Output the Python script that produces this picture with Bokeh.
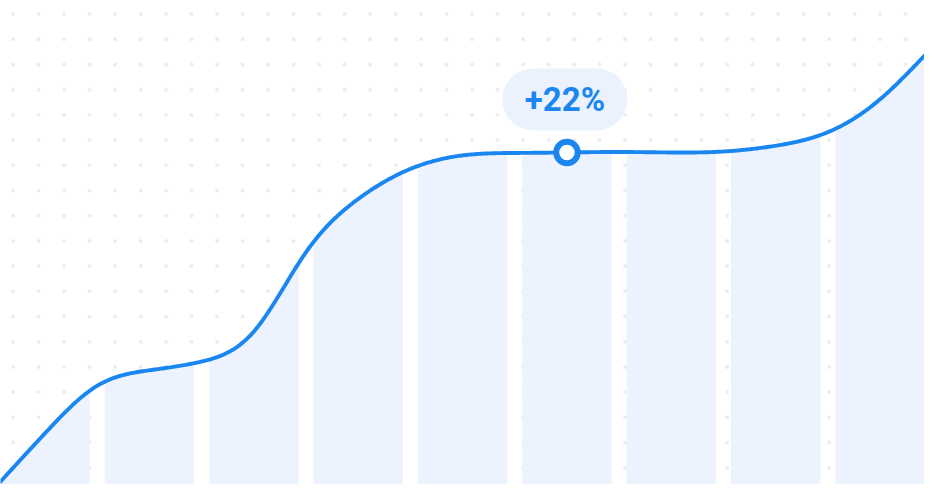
import numpy as np
from bokeh.plotting import figure
from bokeh.models import Range1d
from bokeh.core.properties import value
from bokeh.embed import file_html
from bokeh.resources import INLINE

# ---- data ----
bar_index = [0, 1, 2, 3, 4, 5, 6, 7, 8]
curve_x = [-0.427, 0, 0.5, 1, 1.5, 2, 2.5, 3, 3.5, 4, 4.5, 5, 5.5, 6, 6.5, 7, 7.5, 8, 8.425]
curve_y = [0.6, 10.6, 20.4, 23.6, 25.4, 31.6, 48.0, 59.0, 65.2, 68.0, 68.5, 68.6, 68.7,
           68.6, 68.8, 70.0, 72.8, 79.6, 88.6]
highlight_index = 5
highlight_label = "+22%"

# ---- style ----
BLUE = "#1A86F0"
BAR = "#EDF3FE"
PILL = "#EBF2FD"
DOT = "#EDEDED"
W, H = 924, 484
XR = (-0.427, 8.425)
YR = (0, 100)


def smooth(xs, ys, xq):
    """Natural cubic spline through the points."""
    xs = np.asarray(xs, float)
    ys = np.asarray(ys, float)
    n = len(xs)
    h = np.diff(xs)
    A = np.zeros((n, n))
    r = np.zeros(n)
    A[0, 0] = 1
    A[-1, -1] = 1
    for i in range(1, n - 1):
        A[i, i - 1] = h[i - 1]
        A[i, i] = 2 * (h[i - 1] + h[i])
        A[i, i + 1] = h[i]
        r[i] = 6 * ((ys[i + 1] - ys[i]) / h[i] - (ys[i] - ys[i - 1]) / h[i - 1])
    M = np.linalg.solve(A, r)
    xq = np.asarray(xq, float)
    idx = np.clip(np.searchsorted(xs, xq) - 1, 0, n - 2)
    x0, x1 = xs[idx], xs[idx + 1]
    hh = x1 - x0
    a = (x1 - xq) / hh
    b = (xq - x0) / hh
    return (a * ys[idx] + b * ys[idx + 1]
            + ((a**3 - a) * M[idx] + (b**3 - b) * M[idx + 1]) * hh**2 / 6)


p = figure(width=W, height=H, output_backend="svg", toolbar_location=None,
           x_range=Range1d(*XR), y_range=Range1d(*YR), min_border=0)
p.axis.visible = False
p.grid.visible = False
p.outline_line_color = None
p.background_fill_color = "white"
p.border_fill_color = "white"

# dotted background grid (decoration), spaced in screen pixels
sx = (XR[1] - XR[0]) / W
sy = (YR[1] - YR[0]) / H
gx = XR[0] + (12.6 + 25.5 * np.arange(37)) * sx
gy = YR[1] - (13.6 + 25.2 * np.arange(20)) * sy
GX, GY = np.meshgrid(gx, gy)
p.scatter(GX.ravel(), GY.ravel(), size=4, color=DOT, line_color=None)

# bars whose tops follow the curve
bw = 0.857
bxs, bys = [], []
for b in bar_index:
    xl, xr = b - bw / 2, b + bw / 2
    xx = np.linspace(xl, xr, 40)
    yy = smooth(curve_x, curve_y, xx)
    bxs.append([xl] + list(xx) + [xr])
    bys.append([0] + list(yy) + [0])
p.patches(bxs, bys, fill_color=BAR, line_color=None)

# curve
xd = np.linspace(curve_x[0], curve_x[-1], 600)
p.line(xd, smooth(curve_x, curve_y, xd), line_color=BLUE, line_width=3.9,
       line_cap="round", line_join="round")

# highlight marker
hy = float(smooth(curve_x, curve_y, [highlight_index])[0])
p.scatter([highlight_index], [hy], size=21.5, fill_color="white",
          line_color=BLUE, line_width=6)

# label pill
ly = hy + 53 * sy
p.rect(x=[highlight_index - 0.02], y=[ly], width=125, height=62,
       width_units="screen", height_units="screen", border_radius=31,
       fill_color=PILL, line_color=None)
p.text(x=[highlight_index - 0.02], y=[ly], text=[highlight_label],
       text_align="center", text_baseline="middle",
       text_font=value("Roboto"), text_font_style="bold",
       text_font_size="33px", text_color=BLUE)

open("out.html", "w").write(file_html(p, INLINE))
